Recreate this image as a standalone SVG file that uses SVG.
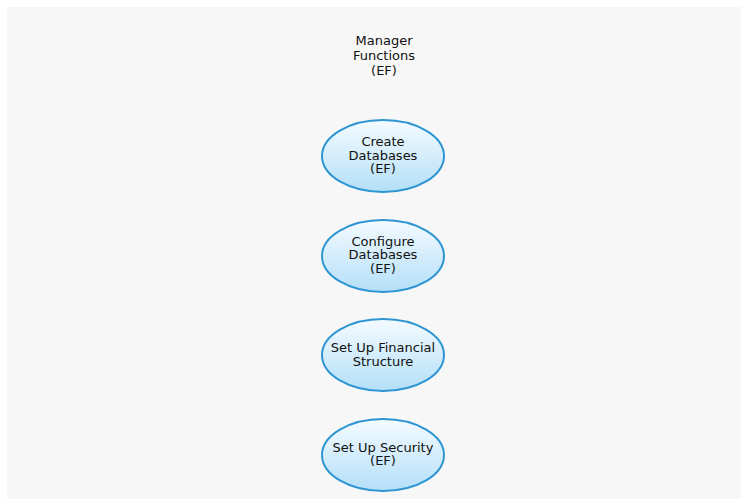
<svg xmlns="http://www.w3.org/2000/svg" width="741" height="499" viewBox="0 0 741 499">
<defs>
<linearGradient id="g" x1="0" y1="0" x2="0" y2="1">
<stop offset="0" stop-color="#f4fbff"/>
<stop offset="1" stop-color="#b4dff8"/>
</linearGradient>
<style>
.n{fill:url(#g);stroke:#2e95d3;stroke-width:2}
.t{font-family:"DejaVu Sans",Verdana,sans-serif;font-size:13px;fill:#111111;text-anchor:middle}
</style>
</defs>
<rect width="741" height="499" fill="#ffffff"/>
<rect x="7" y="7" width="734" height="492" fill="#f7f7f7"/>
<g id="connectors"/>
<g id="title">
<text class="t" x="384" y="45">Manager</text>
<text class="t" x="384" y="60">Functions</text>
<text class="t" x="384" y="75">(EF)</text>
</g>
<g id="n1">
<ellipse class="n" cx="383" cy="156" rx="61" ry="36"/>
<text class="t" x="383" y="146">Create</text>
<text class="t" x="383" y="160">Databases</text>
<text class="t" x="383" y="173">(EF)</text>
</g>
<g id="n2">
<ellipse class="n" cx="383" cy="256" rx="61" ry="36"/>
<text class="t" x="383" y="246">Configure</text>
<text class="t" x="383" y="259">Databases</text>
<text class="t" x="383" y="273">(EF)</text>
</g>
<g id="n3">
<ellipse class="n" cx="383" cy="355" rx="61" ry="36"/>
<text class="t" x="383" y="352">Set Up Financial</text>
<text class="t" x="383" y="366">Structure</text>
</g>
<g id="n4">
<ellipse class="n" cx="383" cy="455" rx="61" ry="36"/>
<text class="t" x="383" y="452">Set Up Security</text>
<text class="t" x="383" y="465">(EF)</text>
</g>
</svg>
